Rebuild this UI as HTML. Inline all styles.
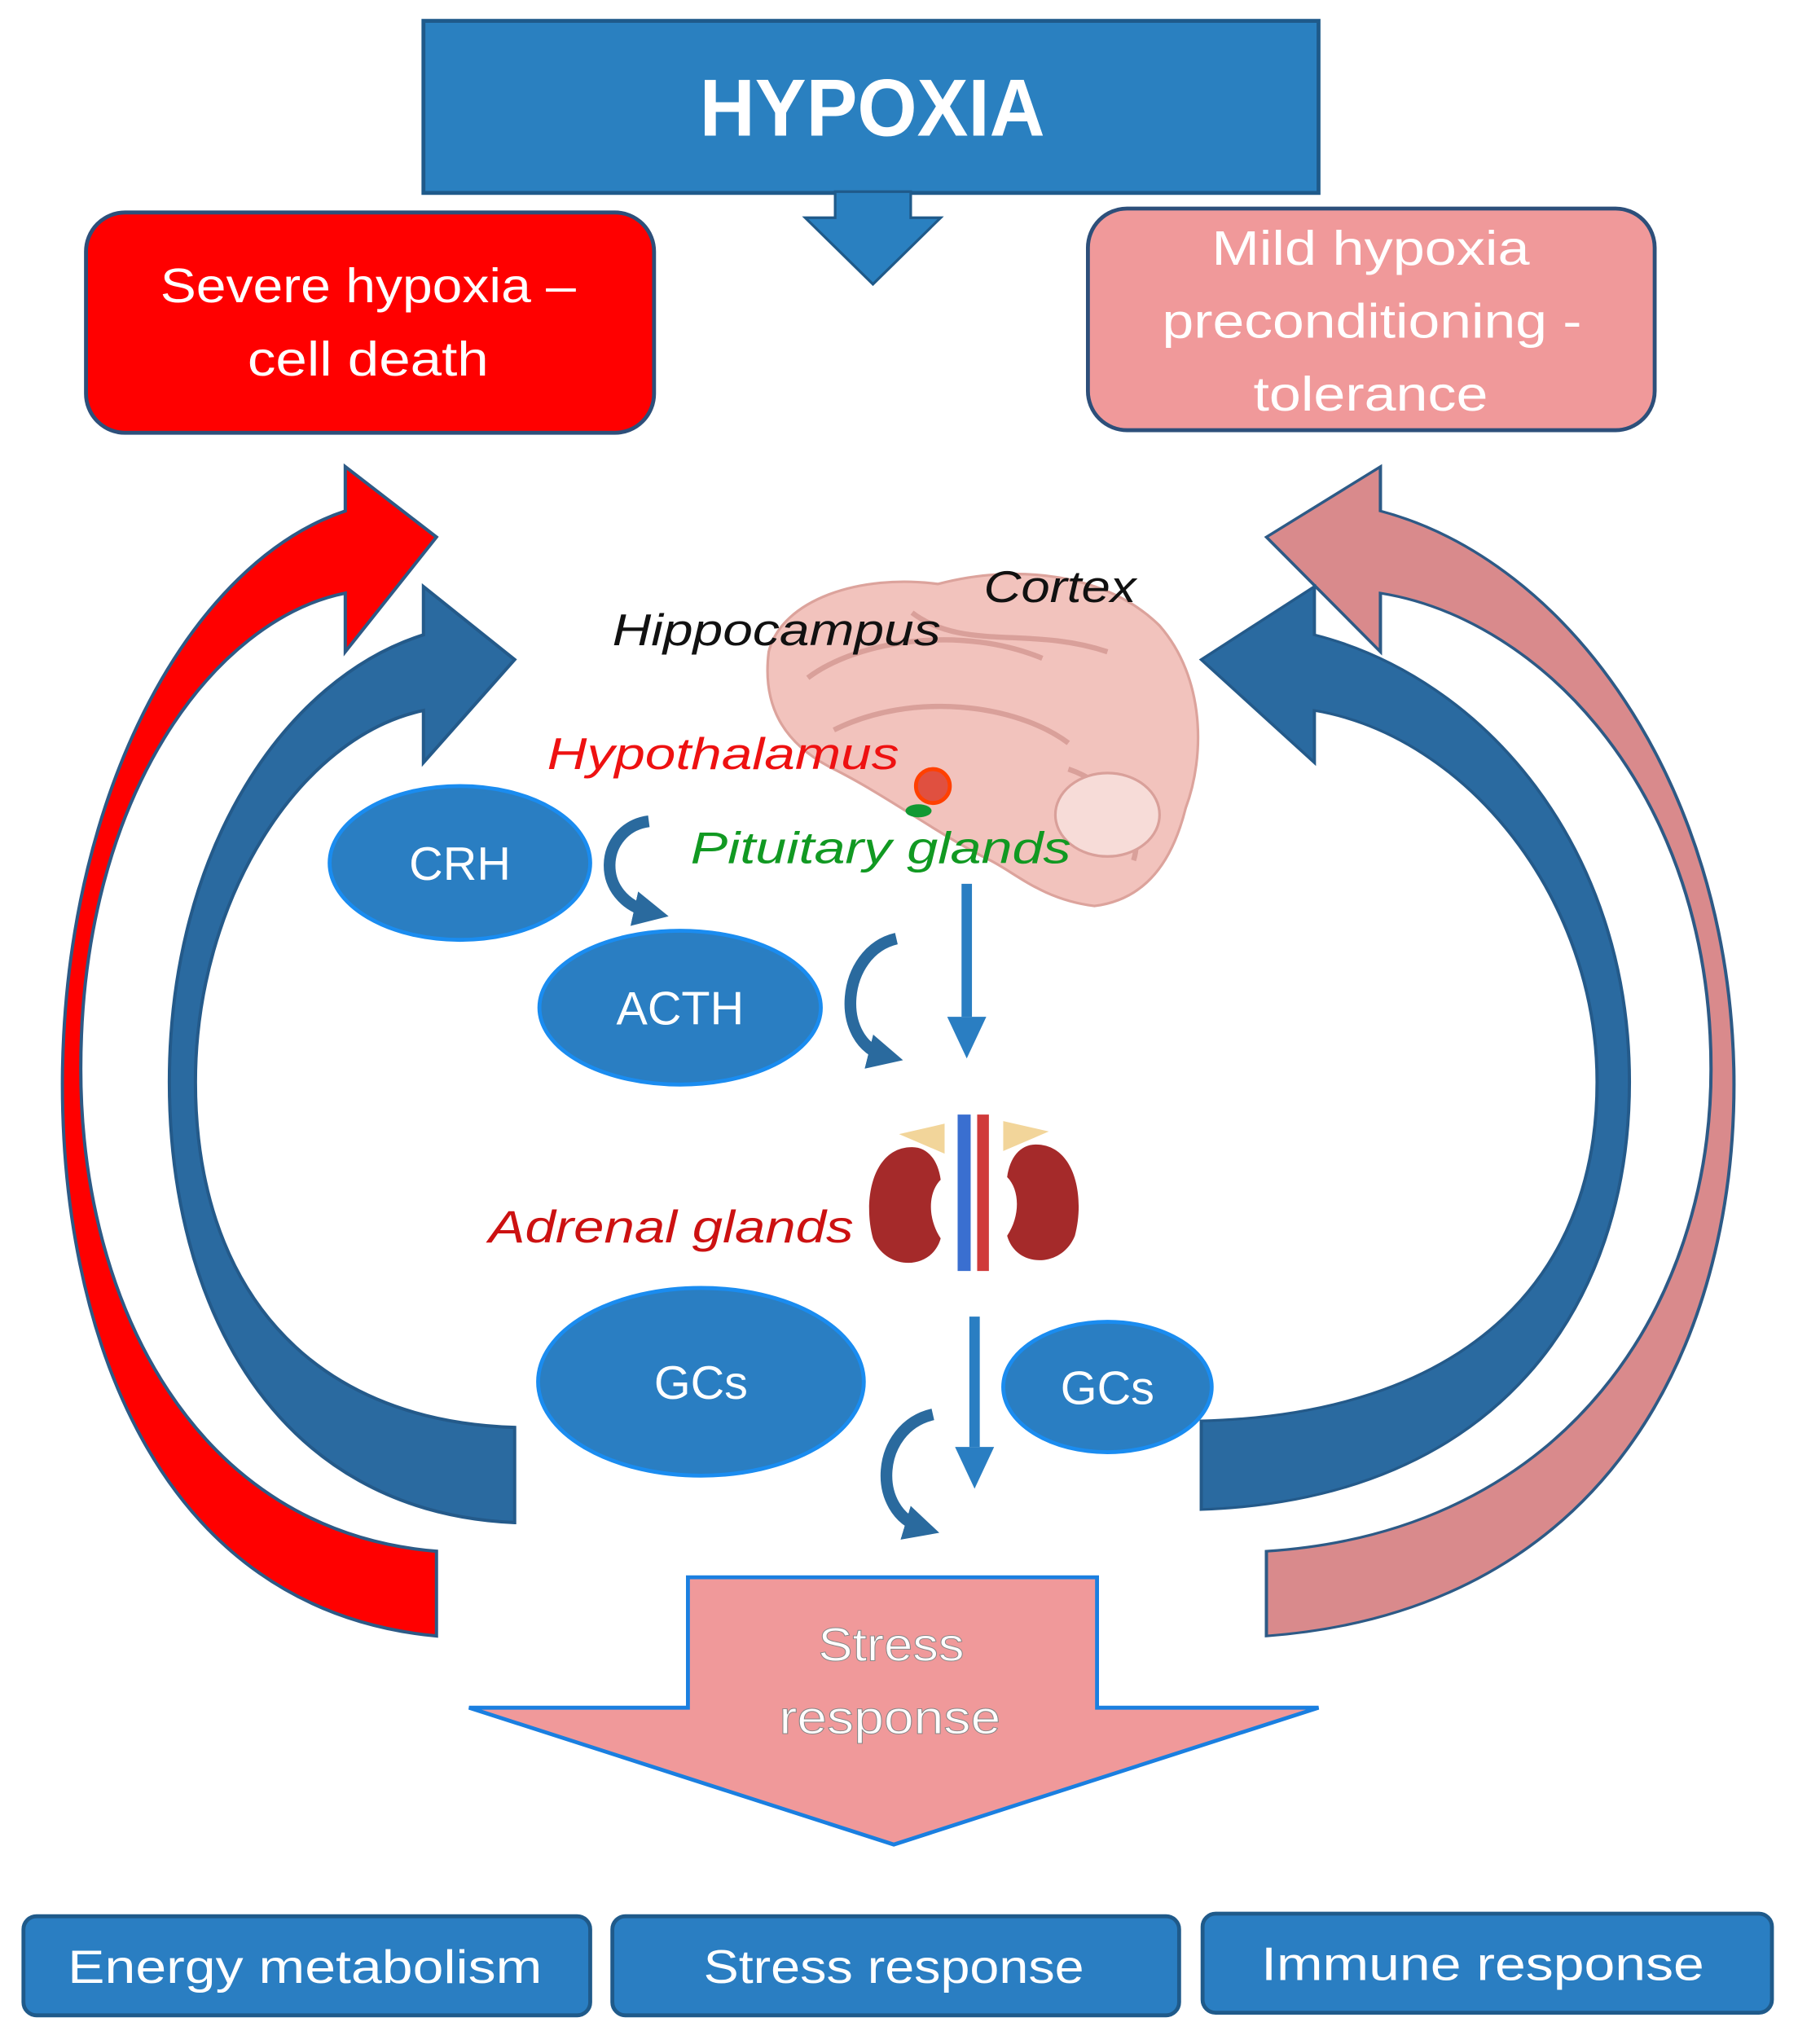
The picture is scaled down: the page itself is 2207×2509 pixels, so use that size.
<!DOCTYPE html>
<html><head><meta charset="utf-8"><style>
html,body{margin:0;padding:0;background:#fff;}
svg{display:block;}
text{font-family:"Liberation Sans",sans-serif;}
</style></head><body>
<svg width="2207" height="2509" viewBox="0 0 1380 1568" preserveAspectRatio="none" xmlns="http://www.w3.org/2000/svg">
<defs>
<marker id="ah" viewBox="0 0 10 10" refX="5" refY="5" markerWidth="3" markerHeight="3" orient="auto"><path d="M0,0 L10,5 L0,10 Z" fill="#2a6a9e"/></marker>
</defs>
<rect width="1380" height="1568" fill="#fff"/>

<rect x="325" y="16" width="687" height="132" fill="#2a80c0" stroke="#1f5a8a" stroke-width="3"/>
<text x="537" y="104" font-size="62" font-weight="bold" fill="#fff" textLength="265" lengthAdjust="spacingAndGlyphs">HYPOXIA</text>
<path d="M641,147 L699,147 L699,167 L722,167 L670,218 L618,167 L641,167 Z" fill="#2a80c0" stroke="#1f5a8a" stroke-width="2"/>

<rect x="66" y="163" width="436" height="169" rx="30" fill="#ff0000" stroke="#2d4f7a" stroke-width="3"/>
<text x="123" y="232" font-size="37" fill="#fff" textLength="319" lengthAdjust="spacingAndGlyphs">Severe hypoxia –</text>
<text x="190" y="288" font-size="37" fill="#fff" textLength="185" lengthAdjust="spacingAndGlyphs">cell death</text>

<rect x="835" y="160" width="435" height="170" rx="30" fill="#f0999a" stroke="#2d4f7a" stroke-width="3"/>
<text x="930" y="203" font-size="37" fill="#fff" textLength="244" lengthAdjust="spacingAndGlyphs">Mild hypoxia</text>
<text x="892" y="259" font-size="37" fill="#fff" textLength="322" lengthAdjust="spacingAndGlyphs">preconditioning -</text>
<text x="962" y="315" font-size="37" fill="#fff" textLength="180" lengthAdjust="spacingAndGlyphs">tolerance</text>

<path d="M335,1255 C120,1235 45,1020 48,820 C52,600 150,430 265,392 L265,358 L335,412 L265,500 L265,455 C165,475 62,610 62,820 C62,1000 150,1175 335,1190 Z" fill="#ff0000" stroke="#2d5a86" stroke-width="2.5"/>
<path d="M395,1168 C210,1160 130,1000 130,830 C130,650 220,520 325,487 L325,450 L395,506 L325,585 L325,545 C230,565 150,690 150,830 C150,985 235,1090 395,1095 Z" fill="#2a6aa0" stroke="#245a8a" stroke-width="2.5"/>

<g transform="translate(1390.75,0) scale(-1.25,1)">
<path d="M335,1255 C120,1235 45,1020 48,820 C52,600 150,430 265,392 L265,358 L335,412 L265,500 L265,455 C165,475 62,610 62,820 C62,1000 150,1175 335,1190 Z" fill="#d98a8c" stroke="#2d5a86" stroke-width="2"/>
</g>
<g transform="translate(1411.8,0) scale(-1.24,1)">
<path d="M395,1158 C210,1150 130,1000 130,830 C130,650 220,520 325,487 L325,450 L395,506 L325,585 L325,545 C230,565 150,690 150,830 C150,985 235,1085 395,1090 Z" fill="#2a6aa0" stroke="#245a8a" stroke-width="2"/>
</g>

<path d="M590,500 C600,460 660,440 720,448 C780,432 850,440 890,480 C925,520 925,580 910,620 C900,660 880,690 840,695 C800,690 780,670 760,660 C720,640 680,610 640,590 C600,570 585,540 590,500 Z" fill="#f2c3bd" stroke="#dca39c" stroke-width="2"/>
<path d="M620,520 C660,490 740,480 800,505 M640,560 C700,530 780,540 820,570 M700,470 C740,500 790,480 850,500 M820,590 C850,600 880,630 870,660" fill="none" stroke="#d9a09a" stroke-width="4"/>
<ellipse cx="850" cy="625" rx="40" ry="32" fill="#f7dcd8" stroke="#d9a09a" stroke-width="2"/>
<circle cx="716" cy="603" r="13" fill="#e05040" stroke="#ff4000" stroke-width="3"/>
<ellipse cx="705" cy="622" rx="10" ry="5" fill="#119933"/>

<path d="M700,880 C670,880 662,920 670,950 C680,975 715,975 722,950 C712,935 712,915 722,905 C720,890 712,880 700,880 Z" fill="#a52a2a"/>
<path d="M795,878 C825,878 833,918 825,948 C815,973 780,973 773,948 C783,933 783,913 773,903 C775,888 783,878 795,878 Z" fill="#a52a2a"/>
<path d="M690,870 L725,862 L725,885 Z M805,868 L770,860 L770,883 Z" fill="#f2d59a"/>
<rect x="735" y="855" width="10" height="120" fill="#3a6fd0"/>
<rect x="750" y="855" width="9" height="120" fill="#d03a3a"/>

<text x="755" y="462" font-size="34" font-style="italic" fill="#111" textLength="117" lengthAdjust="spacingAndGlyphs">Cortex</text>
<text x="470" y="495" font-size="34" font-style="italic" fill="#111" textLength="252" lengthAdjust="spacingAndGlyphs">Hippocampus</text>
<text x="420" y="590" font-size="34" font-style="italic" fill="#ee1111" textLength="270" lengthAdjust="spacingAndGlyphs">Hypothalamus</text>
<text x="530" y="662" font-size="34" font-style="italic" fill="#119922" textLength="292" lengthAdjust="spacingAndGlyphs">Pituitary glands</text>
<text x="375" y="953" font-size="35" font-style="italic" fill="#cc1111" textLength="280" lengthAdjust="spacingAndGlyphs">Adrenal glands</text>

<g fill="#2a7ec2" stroke="#1a8cf0" stroke-width="3">
<ellipse cx="353" cy="662" rx="100" ry="59"/>
<ellipse cx="522" cy="773" rx="108" ry="59"/>
<ellipse cx="538" cy="1060" rx="125" ry="72"/>
<ellipse cx="850" cy="1064" rx="80" ry="50"/>
</g>
<g font-size="36" fill="#fff" text-anchor="middle">
<text x="353" y="675">CRH</text>
<text x="522" y="786">ACTH</text>
<text x="538" y="1073">GCs</text>
<text x="850" y="1077">GCs</text>
</g>

<g fill="none" stroke="#2a6a9e" stroke-width="9">
<path d="M498,630 C460,635 455,690 500,700" marker-end="url(#ah)"/>
<path d="M688,720 C645,730 640,800 680,810" marker-end="url(#ah)"/>
<path d="M716,1085 C672,1095 668,1160 708,1172" marker-end="url(#ah)"/>
</g>
<g stroke="#2a7ec2" stroke-width="8" fill="#2a7ec2">
<line x1="742" y1="678" x2="742" y2="780"/>
<path d="M727,780 L757,780 L742,812 Z" stroke="none"/>
<line x1="748" y1="1010" x2="748" y2="1110"/>
<path d="M733,1110 L763,1110 L748,1142 Z" stroke="none"/>
</g>

<path d="M528,1210 L842,1210 L842,1310 L1012,1310 L686,1415 L360,1310 L528,1310 Z" fill="#f0999a" stroke="#1a7fe0" stroke-width="3"/>
<text x="628" y="1274" font-size="36" fill="#fff" stroke="#888" stroke-width="0.6" textLength="112" lengthAdjust="spacingAndGlyphs">Stress</text>
<text x="598" y="1330" font-size="36" fill="#fff" stroke="#888" stroke-width="0.6" textLength="170" lengthAdjust="spacingAndGlyphs">response</text>

<g fill="#2a7ec2" stroke="#1f5a8a" stroke-width="3">
<rect x="18" y="1470" width="435" height="76" rx="10"/>
<rect x="470" y="1470" width="435" height="76" rx="10"/>
<rect x="923" y="1468" width="437" height="76" rx="10"/>
</g>
<g font-size="36" fill="#fff">
<text x="52" y="1521" textLength="364" lengthAdjust="spacingAndGlyphs">Energy metabolism</text>
<text x="540" y="1521" textLength="292" lengthAdjust="spacingAndGlyphs">Stress response</text>
<text x="968" y="1519" textLength="340" lengthAdjust="spacingAndGlyphs">Immune response</text>
</g>
</svg>
</body></html>
